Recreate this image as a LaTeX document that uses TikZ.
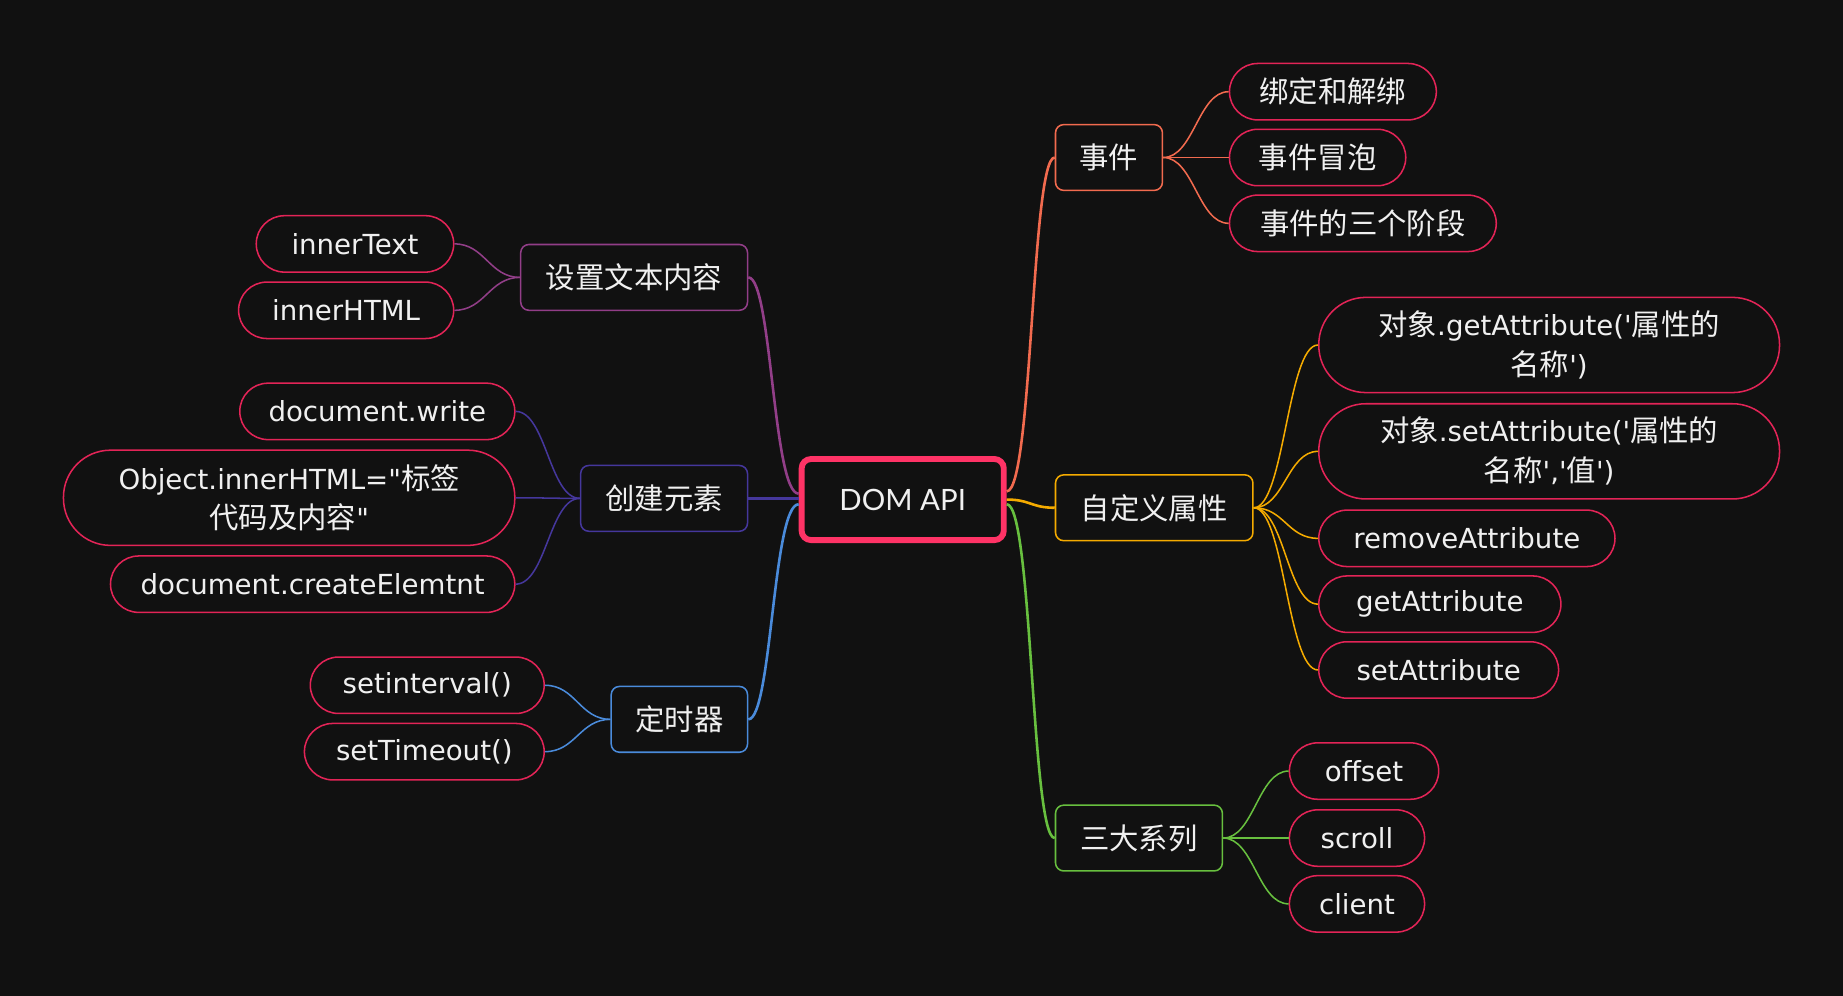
\documentclass[tikz,border=0pt]{standalone}
\usepackage{fontspec}
\setmainfont{DejaVu Sans}
\newfontfamily\cjk{Noto Sans CJK SC}
\newfontfamily\rootfont{Lato}
\newcommand\zh[1]{{\cjk\fontsize{25}{34}\selectfont #1}}
\definecolor{bg}{HTML}{111111}
\definecolor{txt}{HTML}{F0F0F0}
\definecolor{rootc}{HTML}{FF3366}
\definecolor{leafc}{HTML}{E32457}
\definecolor{coral}{HTML}{F26B4F}
\definecolor{amber}{HTML}{F5AB00}
\definecolor{grn}{HTML}{68C03F}
\definecolor{purp}{HTML}{923E88}
\definecolor{indig}{HTML}{45379C}
\definecolor{blu}{HTML}{4A8BDB}
\tikzset{
  base/.style={text=txt, fill=bg, inner sep=0pt, align=center},
  rootbox/.style={base, draw=rootc, line width=5pt, rounded corners=8pt,
    minimum width=172pt, minimum height=69pt, font=\rootfont\fontsize{25}{30}\selectfont},
  branch/.style={base, line width=1.3pt, rounded corners=7pt, minimum height=56pt,
    font=\cjk\fontsize{25}{30}\selectfont},
  leaf/.style={base, draw=leafc, line width=1.3pt, rounded corners=24pt,
    minimum height=48pt, font=\fontsize{23.5}{34}\selectfont},
  tall/.style={rounded corners=40pt, minimum height=81pt},
  mainlink/.style={line width=2.2pt},
  sublink/.style={line width=1.3pt},
}
\begin{document}
\begin{tikzpicture}[x=1pt,y=-1pt]
\fill[bg] (0,0) rectangle (1568,847);
\useasboundingbox (0,0) rectangle (1568,847);

% root and branches
\node[rootbox] (root) at (768,425) {DOM API};
\node[branch, draw=coral, minimum width=91pt] (ev) at (943.5,134) {事件};
\node[branch, draw=amber, minimum width=168pt] (attr) at (982,432) {自定义属性};
\node[branch, draw=grn, minimum width=142pt] (three) at (969,713) {三大系列};
\node[branch, draw=purp, minimum width=193pt] (text) at (539.5,236) {设置文本内容};
\node[branch, draw=indig, minimum width=142pt] (create) at (565,424) {创建元素};
\node[branch, draw=blu, minimum width=116pt] (timer) at (578,612) {定时器};

% leaves
\node[leaf, minimum width=176pt] (ev1) at (1134,78) {\zh{绑定和解绑}};
\node[leaf, minimum width=150pt] (ev2) at (1121,134) {\zh{事件冒泡}};
\node[leaf, minimum width=227pt] (ev3) at (1159.5,190) {\zh{事件的三个阶段}};

\node[leaf, tall, minimum width=392pt] (at1) at (1318,293.5)
  {\zh{对象}.getAttribute(\textquotesingle\zh{属性的}\\\zh{名称}\textquotesingle)};
\node[leaf, tall, minimum width=392pt] (at2) at (1318,384)
  {\zh{对象}.setAttribute(\textquotesingle\zh{属性的}\\\zh{名称}\textquotesingle,\textquotesingle\zh{值}\textquotesingle)};
\node[leaf, minimum width=252pt] (at3) at (1248,458) {removeAttribute};
\node[leaf, minimum width=206pt] (at4) at (1225,514) {getAttribute};
\node[leaf, minimum width=204pt] (at5) at (1224,570) {setAttribute};

\node[leaf, minimum width=127pt] (th1) at (1160.5,656) {offset};
\node[leaf, minimum width=115pt] (th2) at (1154.5,713) {scroll};
\node[leaf, minimum width=115pt] (th3) at (1154.5,769) {client};

\node[leaf, minimum width=168pt] (tx1) at (302,207.5) {innerText};
\node[leaf, minimum width=183pt] (tx2) at (294.5,264) {innerHTML};

\node[leaf, minimum width=234pt] (cr1) at (321,350) {document.write};
\node[leaf, tall, minimum width=384pt] (cr2) at (246,423.5)
  {Object.innerHTML=\textquotedbl\zh{标签}\\\zh{代码及内容}\textquotedbl};
\node[leaf, minimum width=344pt] (cr3) at (266,497) {document.createElemtnt};

\node[leaf, minimum width=199pt] (tm1) at (363.5,583) {setinterval()};
\node[leaf, minimum width=204pt] (tm2) at (361,639.5) {setTimeout()};

% main connectors
\draw[mainlink, coral] ([yshift=7pt]root.east) .. controls +(22,0) and +(-20,0) .. (ev.west);
\draw[mainlink, amber] (root.east) .. controls +(20,0) and +(-20,0) .. (attr.west);
\draw[mainlink, grn] ([yshift=-4pt]root.east) .. controls +(22,0) and +(-20,0) .. (three.west);
\draw[mainlink, purp] ([yshift=5pt]root.west) .. controls +(-22,0) and +(20,0) .. (text.east);
\draw[mainlink, indig, line width=3pt] (create.east -| root.west) -- (create.east);
\draw[mainlink, blu] ([yshift=-4pt]root.west) .. controls +(-22,0) and +(20,0) .. (timer.east);

% sub connectors
\foreach \l in {ev1,ev2,ev3}
  \draw[sublink, coral] (ev.east) .. controls +(26,0) and +(-26,0) .. (\l.west);
\foreach \l in {at1,at2,at3,at4,at5}
  \draw[sublink, amber] (attr.east) .. controls +(26,0) and +(-26,0) .. (\l.west);
\foreach \l in {th1,th2,th3}
  \draw[sublink, grn] (three.east) .. controls +(26,0) and +(-26,0) .. (\l.west);
\foreach \l in {tx1,tx2}
  \draw[sublink, purp] (text.west) .. controls +(-26,0) and +(26,0) .. (\l.east);
\foreach \l in {cr1,cr2,cr3}
  \draw[sublink, indig] (create.west) .. controls +(-26,0) and +(26,0) .. (\l.east);
\foreach \l in {tm1,tm2}
  \draw[sublink, blu] (timer.west) .. controls +(-26,0) and +(26,0) .. (\l.east);
\end{tikzpicture}
\end{document}
